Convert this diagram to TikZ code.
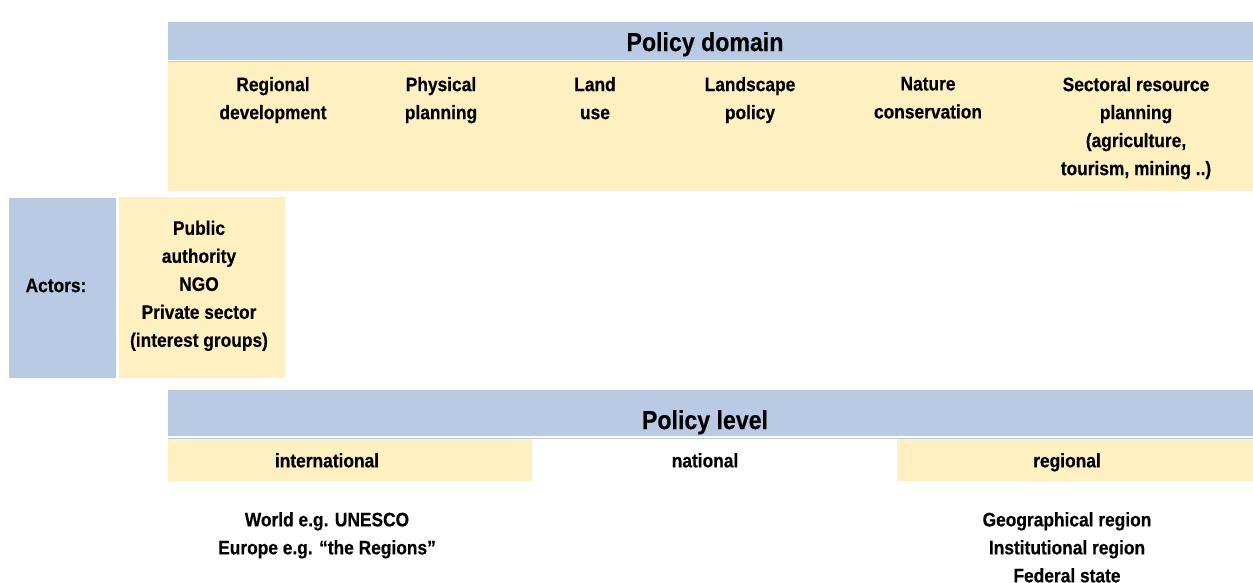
\documentclass[tikz,border=0pt]{standalone}
\usepackage{fontspec}
\setmainfont{Liberation Sans}[BoldFont={* Bold},BoldFeatures={FakeStretch=0.89,FakeBold=0.4}]
\definecolor{hdrblue}{HTML}{B9CBE4}
\definecolor{cellyel}{HTML}{FEF0C1}
\begin{document}
\begin{tikzpicture}[x=1pt,y=-1pt,
  lbl/.style={anchor=north,inner sep=0pt,align=center,font=\bfseries\fontsize{19.5}{28}\selectfont},
  hdr/.style={anchor=north,inner sep=0pt,align=center,font=\bfseries\fontsize{26}{30}\selectfont}]
\useasboundingbox (0,0) rectangle (1253,583);
% policy domain block
\fill[hdrblue] (168,22) rectangle (1253,60);
\fill[hdrblue] (168,61.3) rectangle (1253,62.1);
\fill[cellyel] (168,62.5) rectangle (1253,191);
% actors
\fill[hdrblue] (9,198) rectangle (116,378);
\fill[cellyel] (119,197) rectangle (285,378);
% policy level block
\fill[hdrblue] (168,390) rectangle (1253,436);
\fill[hdrblue] (168,438.2) rectangle (1253,439);
\fill[cellyel] (168,439.4) rectangle (532,481);
\fill[cellyel] (897,439.4) rectangle (1253,481);
% texts
\node[hdr] (domain) at (705,32) {Policy domain};
\node[lbl] (regdev) at (273,76.8) {Regional\\development};
\node[lbl] (phys) at (441,76.8) {Physical\\planning};
\node[lbl] (land) at (595,76.8) {Land\\use};
\node[lbl] (lands) at (750,76.8) {Landscape\\policy};
\node[lbl] (nature) at (928,76.8) {Nature\\conservation};
\node[lbl] (sect) at (1136,76.8) {Sectoral resource\\planning\\(agriculture,\\tourism, mining ..)};
\node[lbl] (actors) at (56,278.5) {Actors:};
\node[lbl] (actlist) at (199,220.5) {Public\\authority\\NGO\\Private sector\\(interest groups)};
\node[hdr] (level) at (705,410) {Policy level};
\node[lbl] (intl) at (327,453) {international};
\node[lbl] (natl) at (705,453) {national};
\node[lbl] (regl) at (1067,453) {regional};
\node[lbl] (world) at (327,512) {World e.g. UNESCO\\Europe e.g. “the Regions”};
\node[lbl] (geo) at (1067,512) {Geographical region\\Institutional region\\Federal state};
\end{tikzpicture}
\end{document}
